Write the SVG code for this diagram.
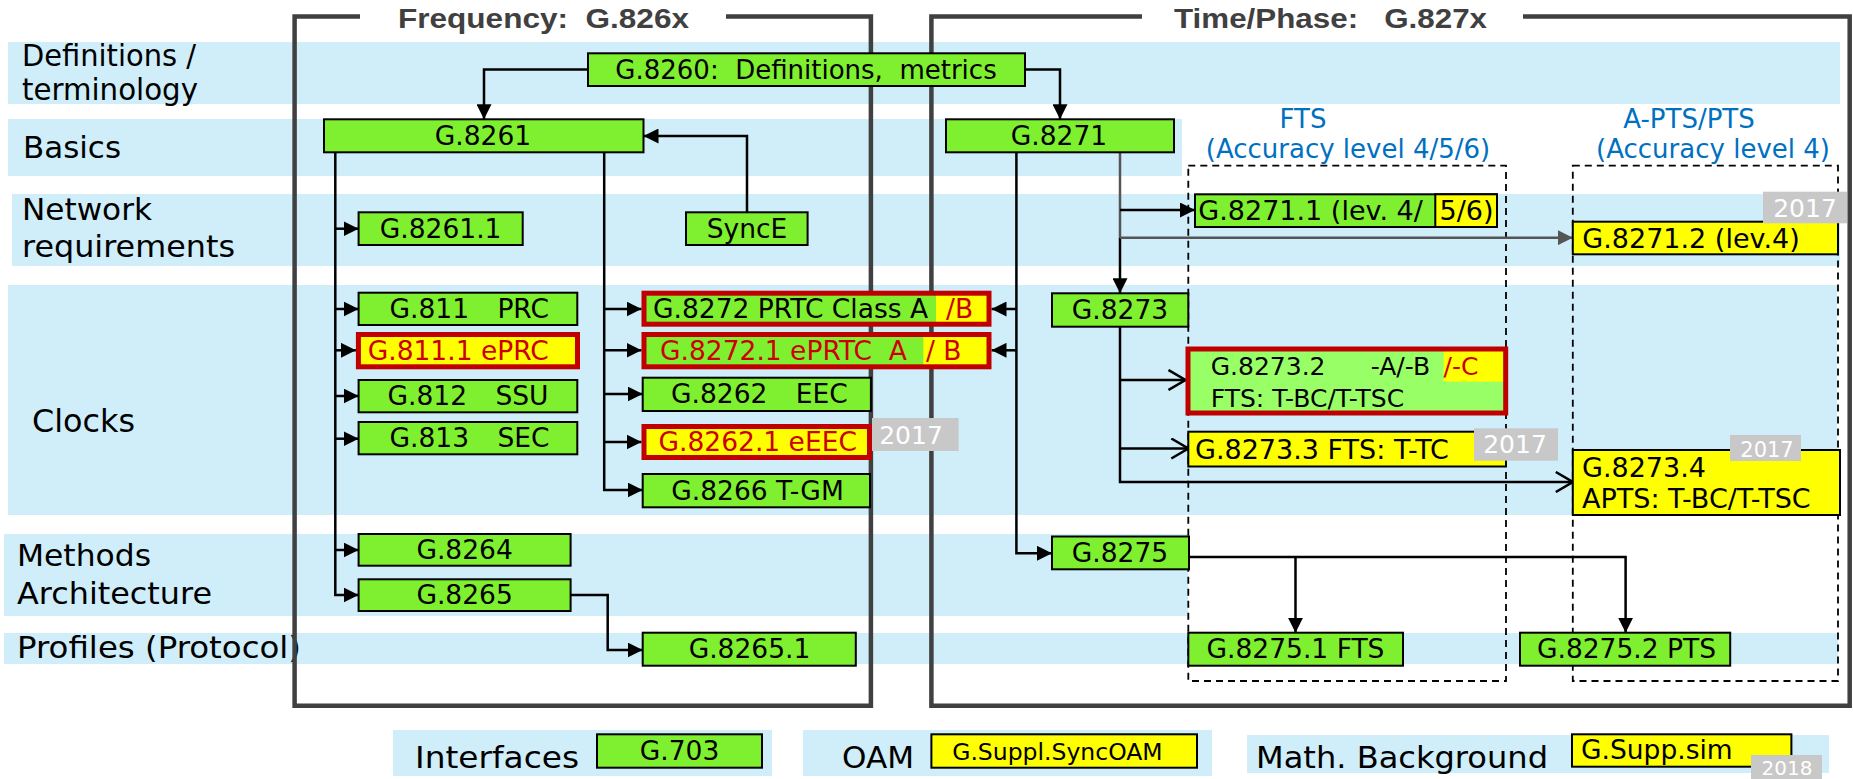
<svg xmlns="http://www.w3.org/2000/svg" width="1853" height="779" viewBox="0 0 1853 779">
<style>
.band{fill:#CFEEFA}
.frame{fill:none;stroke:#404040;stroke-width:4.5}
.title{font-family:"Liberation Sans",Arial,sans-serif;font-weight:bold;font-size:28px;fill:#404040;white-space:pre}
.n{fill:#7FF02F;stroke:#000;stroke-width:2}
.y{fill:#FFFF00;stroke:#000;stroke-width:2}
.lg{fill:#99FF66}
.rb{fill:none;stroke:#C00000;stroke-width:5}
.t{font-family:"DejaVu Sans",Verdana,sans-serif;font-size:26.5px;fill:#000;white-space:pre}
.m{text-anchor:middle}
.red{fill:#CC0000}
.lbl{font-family:"DejaVu Sans",Verdana,sans-serif;font-size:30px;fill:#000;white-space:pre}
.blue{font-family:"DejaVu Sans",Verdana,sans-serif;font-size:26px;fill:#0070C0;text-anchor:middle}
.tagr{fill:#C8C8C8}
.tagt{font-family:"DejaVu Sans",Verdana,sans-serif;font-size:25px;fill:#FFFFFF;text-anchor:middle}
.c{fill:none;stroke:#000;stroke-width:2.5}
.g{fill:none;stroke:#555;stroke-width:2.5}
.dash{fill:none;stroke:#000;stroke-width:1.8;stroke-dasharray:7 5}
</style>
<defs>
<marker id="ah" markerUnits="userSpaceOnUse" markerWidth="15" markerHeight="15" refX="15" refY="7.5" orient="auto" viewBox="0 0 15 15"><path d="M0,0 L15,7.5 L0,15 z" fill="#000"/></marker>
<marker id="ahg" markerUnits="userSpaceOnUse" markerWidth="15" markerHeight="15" refX="15" refY="7.5" orient="auto" viewBox="0 0 15 15"><path d="M0,0 L15,7.5 L0,15 z" fill="#555"/></marker>
<marker id="oa" markerUnits="userSpaceOnUse" markerWidth="20" markerHeight="22" refX="18" refY="11" orient="auto" viewBox="0 0 20 22"><path d="M1,1 L18,11 L1,21" fill="none" stroke="#000" stroke-width="2.5"/></marker>
</defs>

<g id="bands">
<rect class="band" x="8" y="42" width="1832" height="62"/>
<rect class="band" x="8" y="119" width="1174" height="57"/>
<rect class="band" x="12" y="194" width="1828" height="72"/>
<rect class="band" x="8" y="285" width="1829" height="230"/>
<rect class="band" x="4" y="534" width="1184" height="82"/>
<rect class="band" x="4" y="633" width="1834" height="31"/>
<rect class="band" x="393" y="730" width="379" height="46"/>
<rect class="band" x="803" y="730" width="409" height="46"/>
<rect class="band" x="1247" y="735" width="582" height="38"/>
</g>

<g id="row-labels">
<text class="lbl" x="22" y="66" textLength="174" lengthAdjust="spacingAndGlyphs">Definitions /</text>
<text class="lbl" x="22" y="100" textLength="176" lengthAdjust="spacingAndGlyphs">terminology</text>
<text class="lbl" x="23" y="158" textLength="98" lengthAdjust="spacingAndGlyphs">Basics</text>
<text class="lbl" x="22" y="220" textLength="130" lengthAdjust="spacingAndGlyphs">Network</text>
<text class="lbl" x="22" y="257" textLength="213" lengthAdjust="spacingAndGlyphs">requirements</text>
<text class="lbl" x="32" y="432" style="font-size:32px" textLength="103" lengthAdjust="spacingAndGlyphs">Clocks</text>
<text class="lbl" x="17" y="566" textLength="134" lengthAdjust="spacingAndGlyphs">Methods</text>
<text class="lbl" x="17" y="604" textLength="195" lengthAdjust="spacingAndGlyphs">Architecture</text>
<text class="lbl" x="17" y="658" textLength="284" lengthAdjust="spacingAndGlyphs">Profiles (Protocol)</text>
<text class="lbl" x="415" y="768" textLength="164" lengthAdjust="spacingAndGlyphs">Interfaces</text>
<text class="lbl" x="842" y="768" textLength="72" lengthAdjust="spacingAndGlyphs">OAM</text>
<text class="lbl" x="1256" y="768" textLength="292" lengthAdjust="spacingAndGlyphs">Math. Background</text>
</g>

<g id="frames">
<path class="frame" d="M360,16.5 H294.6 V705.7 H870.9 V16.5 H726"/>
<text class="title" x="398" y="28" textLength="291" lengthAdjust="spacingAndGlyphs">Frequency:  G.826x</text>
<path class="frame" d="M1142,16.5 H931.4 V705.7 H1849.7 V16.5 H1523"/>
<text class="title" x="1174" y="28" textLength="313" lengthAdjust="spacingAndGlyphs">Time/Phase:   G.827x</text>
</g>

<g id="groups">
<rect class="dash" x="1188.3" y="165.7" width="317.7" height="515.3"/>
<text class="blue" x="1303" y="128">FTS</text>
<text class="blue" x="1348" y="158">(Accuracy level 4/5/6)</text>
<rect class="dash" x="1572.8" y="165.7" width="265.2" height="515.3"/>
<text class="blue" x="1689" y="128">A-PTS/PTS</text>
<text class="blue" x="1713" y="158">(Accuracy level 4)</text>
</g>

<g id="connectors">
<path class="c" d="M588,69.5 H484 V119.3" marker-end="url(#ah)"/>
<path class="c" d="M1025,69.5 H1060 V119.3" marker-end="url(#ah)"/>
<path class="c" d="M747,212.3 V136 H643.5" marker-end="url(#ah)"/>
<path class="c" d="M335.3,152.3 V595 H358.6" marker-end="url(#ah)"/>
<path class="c" d="M335.3,228.7 H358.6" marker-end="url(#ah)"/>
<path class="c" d="M335.3,309 H358.6" marker-end="url(#ah)"/>
<path class="c" d="M335.3,350.3 H355.9" marker-end="url(#ah)"/>
<path class="c" d="M335.3,396 H358.6" marker-end="url(#ah)"/>
<path class="c" d="M335.3,438.7 H358.6" marker-end="url(#ah)"/>
<path class="c" d="M335.3,550 H358.6" marker-end="url(#ah)"/>
<path class="c" d="M604.2,152.3 V490 H642.7" marker-end="url(#ah)"/>
<path class="c" d="M604.2,309 H641.5" marker-end="url(#ah)"/>
<path class="c" d="M604.2,350.3 H641.5" marker-end="url(#ah)"/>
<path class="c" d="M604.2,394 H642.7" marker-end="url(#ah)"/>
<path class="c" d="M604.2,442 H641.5" marker-end="url(#ah)"/>
<path class="c" d="M570.6,595 H607.7 V650 H642.7" marker-end="url(#ah)"/>
<path class="c" d="M1016.4,152.3 V553.3 H1052" marker-end="url(#ah)"/>
<path class="c" d="M1016.4,309 H991.5" marker-end="url(#ah)"/>
<path class="c" d="M1016.4,350.3 H991.5" marker-end="url(#ah)"/>
<path class="g" d="M1120,152.3 V237.7"/>
<path class="c" d="M1120,237.7 V293.3" marker-end="url(#ah)"/>
<path class="c" d="M1120,210 H1195" marker-end="url(#ah)"/>
<path class="g" d="M1120,237.7 H1572.8" marker-end="url(#ahg)"/>
<path class="c" d="M1120,326.7 V482 H1572.8" marker-end="url(#oa)"/>
<path class="c" d="M1120,380 H1185.5" marker-end="url(#oa)"/>
<path class="c" d="M1120,448.5 H1188.3" marker-end="url(#oa)"/>
<path class="c" d="M1189,557 H1625.6 V632.7" marker-end="url(#ah)"/>
<path class="c" d="M1295.5,557 V632.7" marker-end="url(#ah)"/>
</g>

<g id="n-g8260"><rect class="n" x="588" y="53.3" width="437" height="32.7"/><text class="t m" x="806" y="79" style="font-size:26px">G.8260:  Definitions,  metrics</text></g>
<g id="n-g8261"><rect class="n" x="324" y="119.3" width="319.5" height="33"/><text class="t m" x="483" y="145">G.8261</text></g>
<g id="n-g8261-1"><rect class="n" x="358.6" y="212.3" width="164.1" height="32.7"/><text class="t m" x="440.6" y="237.5">G.8261.1</text></g>
<g id="n-synce"><rect class="n" x="686" y="212.3" width="121.6" height="32.7"/><text class="t m" x="747" y="237.5">SyncE</text></g>
<g id="n-g811"><rect class="n" x="358.6" y="292.7" width="218.7" height="32.3"/><text class="t" x="389.5" y="318">G.811</text><text class="t" x="497.4" y="318">PRC</text></g>
<g id="n-g811-1"><rect class="y" x="358.4" y="334.5" width="219.1" height="32.3" style="stroke:none"/><rect class="rb" x="358.4" y="334.5" width="219.1" height="32.3"/><text class="t red" x="367.7" y="360">G.811.1 ePRC</text></g>
<g id="n-g812"><rect class="n" x="358.6" y="380" width="218.7" height="32.3"/><text class="t" x="387.5" y="405">G.812</text><text class="t" x="495.4" y="405">SSU</text></g>
<g id="n-g813"><rect class="n" x="358.6" y="422" width="218.7" height="32.3"/><text class="t" x="389.5" y="447">G.813</text><text class="t" x="497.4" y="447">SEC</text></g>
<g id="n-g8264"><rect class="n" x="358.6" y="534" width="212" height="31.7"/><text class="t m" x="464.6" y="558.7">G.8264</text></g>
<g id="n-g8265"><rect class="n" x="358.6" y="579.3" width="212" height="31.7"/><text class="t m" x="464.6" y="604">G.8265</text></g>
<g id="n-g8265-1"><rect class="n" x="642.7" y="632.7" width="213.1" height="33"/><text class="t m" x="749.5" y="658">G.8265.1</text></g>
<g id="n-g8272"><rect class="n" x="644" y="293.2" width="345" height="31" style="stroke:none"/><rect x="936" y="293.2" width="53" height="31" fill="#FFFF00"/><rect class="rb" x="644" y="293.2" width="345" height="31"/><text class="t" x="653" y="317.5">G.8272 PRTC Class A</text><text class="t red" x="946" y="317.5">/B</text></g>
<g id="n-g8272-1"><rect class="n" x="644" y="334.5" width="345" height="32.3" style="stroke:none"/><rect x="923.4" y="334.5" width="65.6" height="32.3" fill="#FFFF00"/><rect class="rb" x="644" y="334.5" width="345" height="32.3"/><text class="t red" x="660" y="359.5">G.8272.1 ePRTC  A</text><text class="t red" x="926" y="359.5">/ B</text></g>
<g id="n-g8262"><rect class="n" x="642.7" y="377.7" width="228.2" height="33.3"/><text class="t" x="671" y="403.3">G.8262</text><text class="t" x="795.7" y="403.3">EEC</text></g>
<g id="n-g8262-1"><rect class="y" x="644" y="426.5" width="225.5" height="31" style="stroke:none"/><rect class="rb" x="644" y="426.5" width="225.5" height="31"/><text class="t red" x="658.5" y="451">G.8262.1 eEEC</text></g>
<g id="n-g8266"><rect class="n" x="642.7" y="474" width="227.3" height="33.3"/><text class="t m" x="757.5" y="499.7">G.8266 T-GM</text></g>
<g id="n-g8271"><rect class="n" x="946" y="119.3" width="228" height="33"/><text class="t m" x="1059" y="145">G.8271</text></g>
<g id="n-g8273"><rect class="n" x="1052" y="293.3" width="136.3" height="33.4"/><text class="t m" x="1120" y="319">G.8273</text></g>
<g id="n-g8275"><rect class="n" x="1052" y="536.5" width="137" height="32.8"/><text class="t m" x="1120" y="562">G.8275</text></g>
<g id="n-g8271-1"><rect class="n" x="1195" y="194.3" width="302" height="32.7"/><rect class="y" x="1435.3" y="194.3" width="61.7" height="32.7"/><text class="t" x="1198.3" y="220" style="font-size:27px">G.8271.1 (lev. 4/</text><text class="t" x="1439.5" y="220" style="font-size:27px">5/6)</text></g>
<g id="n-g8271-2"><rect class="y" x="1572.8" y="221.7" width="265.2" height="32.6"/><text class="t" x="1582.3" y="247.5" style="font-size:27px">G.8271.2 (lev.4)</text></g>
<g id="n-g8273-2"><rect class="lg" x="1188" y="349" width="317.7" height="64"/><rect x="1443.6" y="351" width="59.4" height="30.7" fill="#FFFF00"/><rect class="rb" x="1188" y="349" width="317.7" height="64"/><text class="t" x="1210.7" y="375" style="font-size:25px">G.8273.2</text><text class="t" x="1370.8" y="375" style="font-size:25px">-A/-B</text><text class="t red" x="1443.6" y="375" style="font-size:25px">/-C</text><text class="t" x="1210.7" y="406.7" style="font-size:25px">FTS: T-BC/T-TSC</text></g>
<g id="n-g8273-3"><rect class="y" x="1188.3" y="431.7" width="317.7" height="34.8"/><text class="t" x="1195" y="458.5" style="font-size:27px">G.8273.3 FTS: T-TC</text></g>
<g id="n-g8273-4"><rect class="y" x="1572.8" y="450" width="267.2" height="65"/><text class="t" x="1582" y="476.5" style="font-size:27px">G.8273.4</text><text class="t" x="1582" y="508.3" style="font-size:27px">APTS: T-BC/T-TSC</text></g>
<g id="n-g8275-1"><rect class="n" x="1188.3" y="632.7" width="214.7" height="33"/><text class="t m" x="1295.5" y="658">G.8275.1 FTS</text></g>
<g id="n-g8275-2"><rect class="n" x="1520" y="632.7" width="210.2" height="33"/><text class="t m" x="1626.5" y="658">G.8275.2 PTS</text></g>
<g id="n-g703"><rect class="n" x="597" y="734.3" width="165" height="33.4"/><text class="t m" x="679.5" y="760">G.703</text></g>
<g id="n-syncoam"><rect class="y" x="931.4" y="734.3" width="265.6" height="33.4"/><text class="t m" x="1057.4" y="760" style="font-size:23.5px">G.Suppl.SyncOAM</text></g>
<g id="n-suppsim"><rect class="y" x="1572" y="734.3" width="219.4" height="32.4"/><text class="t" x="1581" y="759">G.Supp.sim</text></g>

<g id="tags">
<rect class="tagr" x="1763" y="191.7" width="84" height="31.6"/><text class="tagt" x="1805" y="216.5">2017</text>
<rect class="tagr" x="872" y="418" width="86.6" height="33"/><text class="tagt" x="911" y="443.5">2017</text>
<rect class="tagr" x="1474" y="428.3" width="84" height="32.4"/><text class="tagt" x="1515" y="453">2017</text>
<rect class="tagr" x="1730" y="435" width="71" height="26"/><text class="tagt" x="1767" y="456.5" style="font-size:21px">2017</text>
<rect class="tagr" x="1751" y="755" width="71" height="24"/><text class="tagt" x="1787" y="775" style="font-size:20px">2018</text>
</g>
</svg>
